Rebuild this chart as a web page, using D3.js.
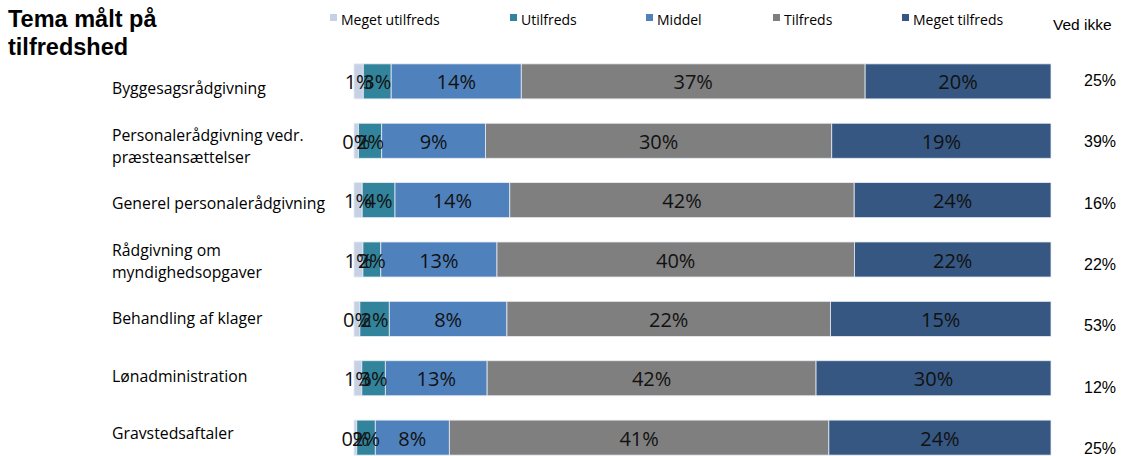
<!DOCTYPE html>
<html>
<head>
<meta charset="utf-8">
<script src="https://cdn.jsdelivr.net/npm/d3@7/dist/d3.min.js"></script>
<style>
  html, body { margin: 0; padding: 0; background: #fff; }
  svg { display: block; }
</style>
</head>
<body>
<svg id="chart" width="1121" height="456"></svg>
<script>
const categories = [
  ["Byggesagsrådgivning"],
  ["Personalerådgivning vedr.", "præsteansættelser"],
  ["Generel personalerådgivning"],
  ["Rådgivning om", "myndighedsopgaver"],
  ["Behandling af klager"],
  ["Lønadministration"],
  ["Gravstedsaftaler"]
];
const seriesNames = ["Meget utilfreds", "Utilfreds", "Middel", "Tilfreds", "Meget tilfreds"];
// shares in %, labels are shown rounded to whole percent
const megetUtilfreds = [1, 0.4, 1, 1, 0.4, 1, 0.3];
const utilfreds      = [3, 2, 4, 2, 2, 3, 2];
const middel         = [14, 9, 14, 13, 8, 13, 8];
const tilfreds       = [37, 30, 42, 40, 22, 42, 41];
const megetTilfreds  = [20, 19, 24, 22, 15, 30, 24];
const vedIkke        = [25, 39, 16, 22, 53, 12, 25];
const colors = ["#c6d1e5", "#31849b", "#4f81bd", "#7f7f7f", "#355782"];

const series = [megetUtilfreds, utilfreds, middel, tilfreds, megetTilfreds];
const keys = categories.map(c => c.join(" "));
const rows = keys.map((k, i) => {
  const o = { key: k, idx: i };
  seriesNames.forEach((s, j) => o[s] = series[j][i]);
  o.total = d3.sum(series, s => s[i]);
  return o;
});
const fmt = v => d3.format(".0f")(v) + "%";

const svg = d3.select("#chart");
const x = d3.scaleLinear().domain([0, 1]).range([354, 1051]);
const y = d3.scaleBand().domain(keys).range([52, 467]).paddingInner(0.41).paddingOuter(0.2);
const yV = d3.scalePoint().domain(keys).range([80, 448]);
const yL = d3.scalePoint().domain(keys).range([89, 434]);

const stack = d3.stack().keys(seriesNames)
  .value((d, k) => d[k] / d.total);
const stacked = stack(rows);

// title
const title = svg.append("text").attr("font-family", "Liberation Sans, Arial, sans-serif")
  .attr("font-weight", "bold").attr("font-size", 23.5).attr("fill", "#000");
title.append("tspan").attr("x", 8).attr("y", 27).text("Tema målt på");
title.append("tspan").attr("x", 8).attr("y", 55).text("tilfredshed");

// legend
const legendX = [330, 510, 646, 773, 902];
const lg = svg.append("g");
seriesNames.forEach((s, i) => {
  lg.append("rect").attr("x", legendX[i]).attr("y", 14).attr("width", 7).attr("height", 7)
    .attr("fill", colors[i]);
  lg.append("text").attr("x", legendX[i] + 11).attr("y", 24.5)
    .attr("font-family", "Open Sans, sans-serif").attr("font-size", 14).attr("fill", "#000")
    .text(s);
});
svg.append("text").attr("x", 1053).attr("y", 30)
  .attr("font-family", "Liberation Sans, Arial, sans-serif").attr("font-size", 15.5).attr("fill", "#000")
  .text("Ved ikke");

// bars
const g = svg.append("g");
stacked.forEach((layer, li) => {
  g.append("g").selectAll("rect").data(layer).join("rect")
    .attr("x", d => x(d[0]))
    .attr("y", d => y(d.data.key))
    .attr("width", d => x(d[1]) - x(d[0]))
    .attr("height", y.bandwidth())
    .attr("fill", colors[li])
    .attr("stroke", "#e8ecf2").attr("stroke-width", 0.8);
});
stacked.forEach((layer, li) => {
  g.append("g").selectAll("text").data(layer).join("text")
    .attr("x", d => (x(d[0]) + x(d[1])) / 2)
    .attr("y", d => y(d.data.key) + y.bandwidth() / 2 + 8)
    .attr("text-anchor", "middle")
    .attr("font-family", "Open Sans, sans-serif").attr("font-size", 20).attr("fill", "#111")
    .text(d => fmt(d.data[seriesNames[li]]));
});

// category labels
const cl = svg.append("g");
rows.forEach((r, i) => {
  const cy = yL(r.key) + 5;
  const lines = categories[i];
  const t = cl.append("text").attr("font-family", "Open Sans, sans-serif").attr("font-size", 15.8)
    .attr("fill", "#000");
  lines.forEach((ln, j) => {
    t.append("tspan").attr("x", 112)
      .attr("y", cy + (j - (lines.length - 1) / 2) * 22)
      .text(ln);
  });
});

// Ved ikke values
svg.append("g").selectAll("text").data(rows).join("text")
  .attr("x", 1084).attr("y", d => yV(d.key) + 6)
  .attr("font-family", "Liberation Sans, Arial, sans-serif").attr("font-size", 16).attr("fill", "#000")
  .text(d => fmt(vedIkke[d.idx]));
</script>
</body>
</html>
